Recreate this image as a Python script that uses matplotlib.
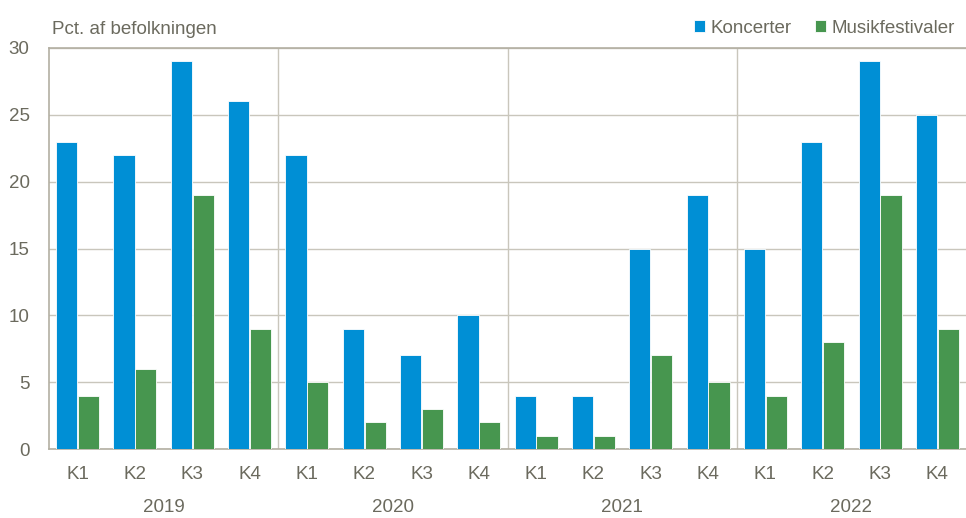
import numpy as np
import matplotlib.pyplot as plt

years = ['2019', '2020', '2021', '2022']
quarters = ['K1', 'K2', 'K3', 'K4']
koncerter = [23, 22, 29, 26, 22, 9, 7, 10, 4, 4, 15, 19, 15, 23, 29, 25]
festivaler = [4, 6, 19, 9, 5, 2, 3, 2, 1, 1, 7, 5, 4, 8, 19, 9]

blue = '#008FD5'
green = '#47964F'
txt = '#6B6A5E'
grid = '#C9C6BC'

plt.rcParams['font.family'] = ['Liberation Sans Narrow', 'Liberation Sans', 'DejaVu Sans']

fig = plt.figure(figsize=(9.66, 5.18), dpi=100)
ax = fig.add_axes([49/966, 1-449/518, 917/966, 401/518])

x = np.arange(len(koncerter))
w = 0.37
ax.bar(x - w/2 - 0.005, koncerter, w, color=blue, edgecolor='white', linewidth=0.6, label='Koncerter', zorder=3)
ax.bar(x + w/2 + 0.005, festivaler, w, color=green, edgecolor='white', linewidth=0.6, label='Musikfestivaler', zorder=3)

ax.set_xlim(-0.5, len(koncerter) - 0.5)
ax.set_ylim(0, 30)
ax.set_yticks(range(0, 31, 5))
ax.yaxis.grid(True, color=grid, linewidth=1, zorder=0)
for b in [3.5, 7.5, 11.5]:
    ax.axvline(b, color=grid, linewidth=1, zorder=1)

ax.set_xticks(x)
ax.set_xticklabels(quarters * 4)
ax.tick_params(axis='both', length=0, labelsize=13.5, colors=txt)
ax.tick_params(axis='x', pad=12)
ax.tick_params(axis='y', pad=14)
for i, yr in enumerate(years):
    ax.text(4*i + 1.5, -0.145, yr, transform=ax.get_xaxis_transform(),
            ha='center', va='center', fontsize=13.5, color=txt)

for s in ['left', 'top', 'bottom']:
    ax.spines[s].set_color('#B3AFA2')
    ax.spines[s].set_linewidth(1.2)
ax.spines['right'].set_visible(False)

ax.text(0.003, 1.045, 'Pct. af befolkningen', transform=ax.transAxes,
        ha='left', va='center', fontsize=13.5, color=txt)

leg = ax.legend(loc='lower right', bbox_to_anchor=(1.0, 1.0), ncol=2, frameon=False,
                fontsize=13.5, handlelength=0.6, handleheight=0.6, handletextpad=0.3,
                columnspacing=1.2, borderaxespad=0.2)
for t in leg.get_texts():
    t.set_color(txt)

fig.savefig('out.png', dpi=100)
